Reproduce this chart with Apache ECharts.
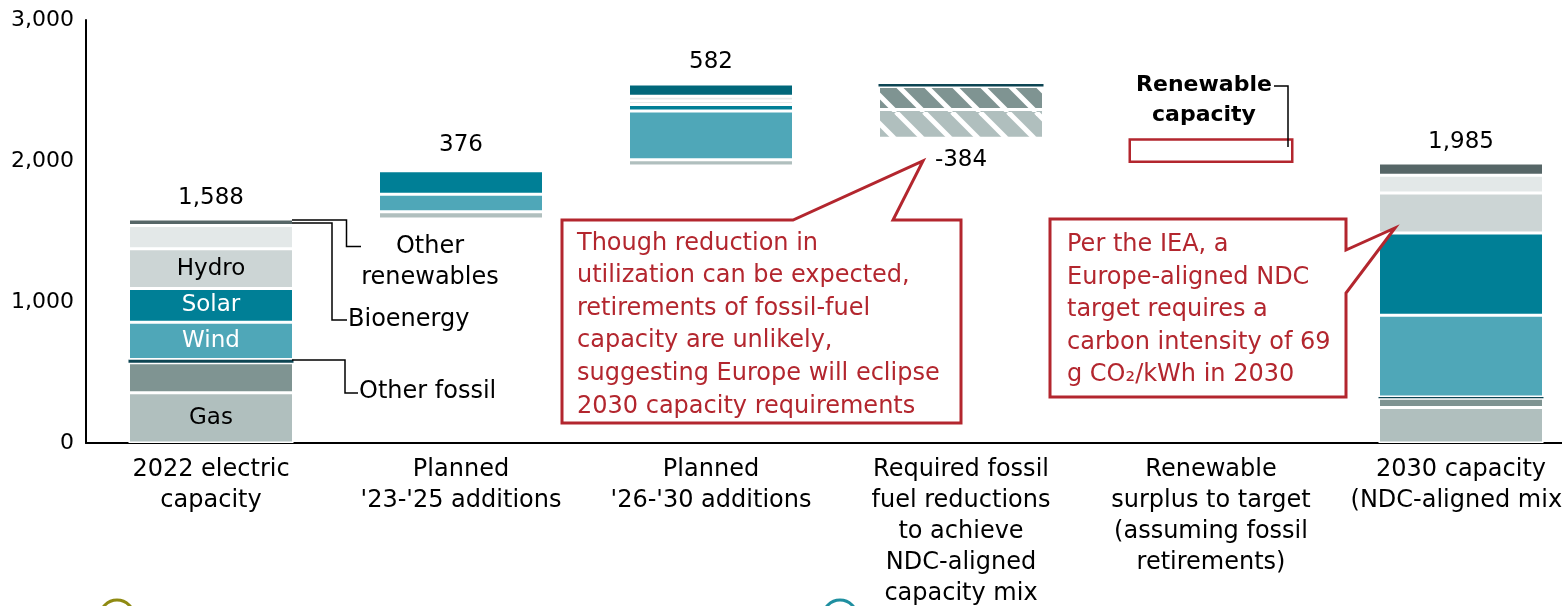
<!DOCTYPE html>
<html>
<head>
<meta charset="utf-8">
<script src="https://cdn.jsdelivr.net/npm/echarts@6/dist/echarts.min.js"></script>
<style>
  html, body { margin: 0; padding: 0; background: #fff; }
  #chart { width: 1562px; height: 606px; }
</style>
</head>
<body>
<div id="chart"></div>
<script>
// categories + waterfall data (GW)
const categories = [
  '2022 electric\ncapacity',
  "Planned\n'23-'25 additions",
  "Planned\n'26-'30 additions",
  'Required fossil\nfuel reductions\nto achieve\nNDC-aligned\ncapacity mix',
  'Renewable\nsurplus to target\n(assuming fossil\nretirements)',
  '2030 capacity\n(NDC-aligned mix)'
];
const baseValues  = [0, 1588, 1964, 2162, 1985, 0];
const gas         = [356, 52, 45, 204, 0, 252];
const coal        = [214, 0, 0, 162, 0, 65];
const otherFossil = [22, 0, 0, 18, 0, 10];
const wind        = [265, 125, 346, 0, 0, 579];
const solar       = [239, 166, 46, 0, 0, 584];
const hydro       = [282, 0, 25, 0, 0, 283];
const otherRenew  = [165, 20, 33, 0, 0, 126];
const bioenergy   = [45, 0, 0, 0, 0, 86];
const storage     = [0, 13, 87, 0, 0, 0];
const surplus     = [0, 0, 0, 0, 177, 0];
const totals      = [1588, 376, 582, -384, null, 1985];
const yTicks      = [0, 1000, 2000, 3000];

const FONT = '"DejaVu Sans", Verdana, sans-serif';
const RED = '#b3262e';
const INK = '#000';

function hatch(color) {
  const c = document.createElement('canvas');
  c.width = 28; c.height = 28;
  const ctx = c.getContext('2d');
  ctx.fillStyle = color;
  ctx.fillRect(0, 0, 28, 28);
  ctx.strokeStyle = '#fff';
  ctx.lineWidth = 5;
  for (let k = -1; k <= 1; k++) {
    ctx.beginPath();
    ctx.moveTo(k * 28, 0);
    ctx.lineTo(k * 28 + 28, 28);
    ctx.stroke();
  }
  return c;
}

const segments = [
  { name: 'Gas', data: gas, color: '#b0bfbe', hatched: true },
  { name: 'Coal', data: coal, color: '#7f9492', hatched: true },
  { name: 'Other fossil', data: otherFossil, color: '#0d4553', border: 0 },
  { name: 'Wind', data: wind, color: '#4fa7b8' },
  { name: 'Solar', data: solar, color: '#007f96' },
  { name: 'Hydro', data: hydro, color: '#ccd5d5' },
  { name: 'Other renewables', data: otherRenew, color: '#e3e8e8' },
  { name: 'Bioenergy', data: bioenergy, color: '#566667' },
  { name: 'Storage', data: storage, color: '#00677a' }
];
const insideLabels = { Gas: INK, Wind: '#fff', Solar: '#fff', Hydro: INK };
const HATCH_COL = 3;

const series = [{
  name: 'base', type: 'bar', stack: 'w', barWidth: '66%', silent: true,
  itemStyle: { color: 'transparent' },
  data: baseValues.map(v => v || '-')
}];

segments.forEach(s => {
  series.push({
    name: s.name, type: 'bar', stack: 'w', barWidth: '66%',
    itemStyle: { color: s.color, borderColor: '#fff', borderWidth: s.border ?? 1.5 },
    data: s.data.map((v, i) => {
      if (!v) return '-';
      const item = { value: v };
      if (i === HATCH_COL && s.hatched) {
        item.itemStyle = { color: { image: hatch(s.color), repeat: 'repeat' } };
      }
      if (i === 0 && insideLabels[s.name]) {
        item.label = {
          show: true, position: 'inside', formatter: s.name,
          color: insideLabels[s.name], fontSize: 23, fontFamily: FONT
        };
      }
      return item;
    })
  });
});

series.push({
  name: 'Surplus', type: 'bar', stack: 'w', barWidth: '66%',
  itemStyle: { color: 'transparent', borderColor: RED, borderWidth: 2.5 },
  data: surplus.map(v => v || '-')
});

// total labels sit at the top of each stack (or under it for a reduction)
const labelPoints = [];
totals.forEach((t, i) => {
  if (t == null) return;
  const top = baseValues[i] + segments.reduce((acc, s) => acc + s.data[i], 0);
  labelPoints.push({
    value: [i, t >= 0 ? top : baseValues[i]],
    label: { position: t >= 0 ? 'top' : 'bottom', formatter: t.toLocaleString('en-US') }
  });
});
series.push({
  name: 'totals', type: 'scatter', symbolSize: 2, silent: true,
  itemStyle: { color: 'rgba(255,255,255,0)', opacity: 1 },
  label: {
    show: true, distance: 9, color: INK, opacity: 1, textBorderWidth: 0,
    fontSize: 23, fontFamily: FONT
  },
  data: labelPoints,
  z: 5
});

const line = (points) => ({
  type: 'polyline', z: 100, shape: { points },
  style: { stroke: INK, lineWidth: 1.5, fill: null }
});
const text = (x, y, str, opts = {}) => ({
  type: 'text', z: 101, x, y,
  style: Object.assign({
    text: str, fill: INK, fontSize: 24, fontFamily: FONT,
    align: 'left', verticalAlign: 'middle', lineHeight: 31
  }, opts)
});
const callout = (points) => ({
  type: 'polygon', z: 99, shape: { points },
  style: { fill: '#fff', stroke: RED, lineWidth: 3, lineJoin: 'miter' }
});

const graphics = [
  // series call-outs on the 2022 bar
  line([[292, 220], [346.5, 220], [346.5, 246.5], [361, 246.5]]),
  line([[292, 223], [332, 223], [332, 320], [347, 320]]),
  line([[292, 360], [345, 360], [345, 393], [358, 393]]),
  text(430, 231.5, 'Other\nrenewables', { align: 'center', verticalAlign: 'top' }),
  text(348, 320, 'Bioenergy'),
  text(359, 392, 'Other fossil'),
  // renewable capacity note
  text(1204, 70, 'Renewable\ncapacity', {
    align: 'center', verticalAlign: 'top', fontWeight: 'bold', fontSize: 22, lineHeight: 30
  }),
  line([[1274, 86], [1288, 86], [1288, 147]]),
  // red call-out boxes
  callout([[562, 220], [793, 220], [923, 161], [893, 220], [961, 220], [961, 423], [562, 423]]),
  text(577, 227, 'Though reduction in\nutilization can be expected,\nretirements of fossil-fuel\ncapacity are unlikely,\nsuggesting Europe will eclipse\n2030 capacity requirements', {
    fill: RED, verticalAlign: 'top', lineHeight: 32.6
  }),
  callout([[1050, 219], [1346, 219], [1346, 250], [1395, 228], [1346, 293], [1346, 397], [1050, 397]]),
  text(1067, 229, 'Per the IEA, a\nEurope-aligned NDC\ntarget requires a\ncarbon intensity of 69\ng CO\u2082/kWh in 2030', {
    fill: RED, verticalAlign: 'top', lineHeight: 32.5
  }),
  // cut-off markers at the bottom edge
  { type: 'circle', z: 100, shape: { cx: 117, cy: 617, r: 17 }, style: { fill: 'none', stroke: '#8f8a12', lineWidth: 3 } },
  { type: 'circle', z: 100, shape: { cx: 840, cy: 617, r: 17 }, style: { fill: 'none', stroke: '#1f8fa0', lineWidth: 3 } }
];

const chart = echarts.init(document.getElementById('chart'), null, { renderer: 'canvas' });
chart.setOption({
  animation: false,
  backgroundColor: '#fff',
  textStyle: { fontFamily: FONT },
  grid: { left: 86, width: 1500, top: 20, height: 423, containLabel: false, outerBoundsMode: 'none' },
  xAxis: {
    type: 'category', data: categories,
    axisLine: { lineStyle: { color: INK, width: 2 } },
    axisTick: { show: false },
    axisLabel: { color: INK, fontSize: 24, lineHeight: 31, margin: 11, interval: 0, fontFamily: FONT }
  },
  yAxis: {
    type: 'value', min: yTicks[0], max: yTicks[yTicks.length - 1], interval: 1000,
    axisLine: { show: true, lineStyle: { color: INK, width: 2 } },
    axisTick: { show: false },
    splitLine: { show: false },
    axisLabel: {
      color: INK, fontSize: 22, margin: 12, fontFamily: FONT,
      formatter: v => v.toLocaleString('en-US')
    }
  },
  series,
  graphic: graphics
});
</script>
</body>
</html>
